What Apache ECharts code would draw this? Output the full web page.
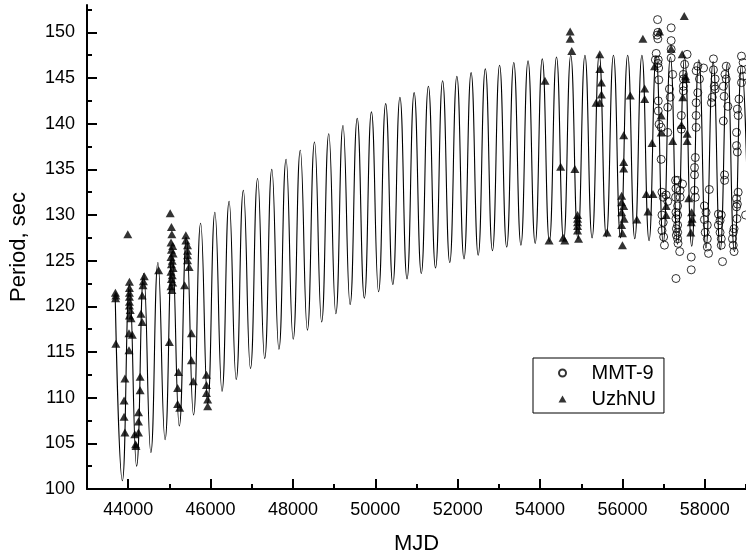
<!DOCTYPE html>
<html>
<head>
<meta charset="utf-8">
<script src="https://cdn.jsdelivr.net/npm/echarts@6/dist/echarts.min.js"></script>
<style>html,body{margin:0;padding:0;background:#fff}#c{width:746px;height:560px}</style>
</head>
<body>
<div id="c"></div>
<script>
// Model curve: successive maxima / minima (MJD, period in s)
var curveMJD = [43686,43859,44031,44204,44377,44550,44722,44895,45068,45241,45414,45586,45759,45932,46105,46278,46450,46623,46796,46969,47142,47314,47487,47660,47833,48006,48178,48351,48524,48697,48870,49042,49215,49388,49561,49734,49906,50079,50252,50425,50598,50770,50943,51116,51289,51462,51634,51807,51980,52153,52326,52498,52671,52844,53017,53190,53362,53535,53708,53881,54054,54226,54399,54572,54745,54918,55090,55263,55436,55609,55782,55954,56127,56300,56473,56646,56818,56991,57164,57337,57510,57682,57855,58028,58201,58374,58546,58719,58892,59065];
var curveP = [120.8,100.9,122.4,102.5,123.6,104.0,124.8,105.4,126.0,106.9,127.5,108.1,129.1,109.4,130.3,110.7,131.5,112.0,132.7,113.2,134.0,114.3,135.0,115.3,136.1,116.4,137.1,117.4,138.0,118.3,138.9,119.2,139.8,120.2,140.6,120.9,141.3,121.6,142.2,122.4,142.9,123.0,143.4,123.6,144.1,124.2,144.7,124.8,145.2,125.2,145.6,125.6,146.0,126.1,146.4,126.5,146.7,126.7,146.9,126.9,147.1,127.1,147.3,127.2,147.5,127.4,147.5,127.5,147.6,127.6,147.5,127.5,147.5,127.4,147.5,127.2,147.4,127.0,147.3,126.8,147.2,126.6,147.0,126.4,146.8,126.2,146.6,126.0,146.4,125.8];

// UzhNU observations [MJD, period]
var uzhnu = [
[43690,121.5],[43700,121.2],[43695,120.9],[43700,115.9],
[43990,127.9],[44030,122.7],[44030,122.0],[44030,121.5],[44030,121.05],[44030,120.5],[44030,120.1],[44050,119.6],[44030,119.0],[44070,118.7],[44020,117.05],[44100,116.9],[44020,115.2],
[43920,112.1],[43900,109.7],[43900,107.9],[43920,106.2],
[44160,106.0],[44250,106.2],[44180,104.9],[44190,104.7],
[44290,112.3],[44290,110.8],[44250,108.4],[44250,107.4],
[44340,118.3],[44310,119.2],[44340,121.2],[44360,122.3],[44370,122.75],[44390,123.3],
[44740,123.95],[45000,116.1],
[45020,130.2],[45050,128.7],[45060,127.9],[45040,127.0],[45080,126.6],[45050,126.2],[45090,125.8],[45040,125.4],[45070,125.0],[45050,124.6],[45090,124.2],[45040,123.8],[45070,123.4],[45050,123.0],[45080,122.6],[45040,122.2],[45060,121.8],
[45220,112.8],[45200,111.05],[45200,109.3],[45250,108.9],
[45400,127.8],[45400,127.2],[45440,126.7],[45440,126.1],[45440,125.6],[45440,125.05],[45480,124.3],[45370,122.3],
[45535,117.05],[45535,114.1],[45580,111.8],
[45900,112.5],[45900,111.4],[45900,110.5],[45930,109.8],[45930,109.05],
[54120,144.7],[54730,150.1],[54730,149.3],[54770,147.95],[54500,135.3],[54845,135.05],
[54220,127.2],[54560,127.5],[54600,127.2],
[54910,130.0],[54910,129.6],[54910,129.2],[54910,128.8],[54910,128.3],[54935,127.4],
[55450,147.6],[55450,146.0],[55490,144.5],[55490,143.2],[55360,142.3],[55450,142.3],[55626,128.1],
[56190,143.1],[56030,138.75],[56030,135.8],[56030,135.1],
[55980,132.1],[55980,131.4],[56030,131.0],[55980,130.3],[56040,129.6],[55980,128.9],[56000,128.0],[56000,126.7],
[56350,129.5],[56496,149.3],[56540,143.85],[56540,142.7],[56720,137.9],[56580,132.3],[56740,132.3],[56620,130.4],
[56900,150.1],[56780,146.3],[56940,140.9],[56940,139.05],[57220,138.1],[57183,148.2],[57062,131.0],[57060,130.0],
[57500,151.8],[57450,147.6],[57530,145.2],[57540,144.9],[57465,142.9],[57432,139.85],[57570,138.9],[57570,138.1],
[57610,131.85],[57680,130.3],[57690,129.6],[57670,129.2],[57660,128.1]
];

// MMT-9 observations [MJD, period]
var mmt9 = [
[56853,151.4],[57183,150.5],[56860,150.0],[56840,149.7],[56860,149.3],[57183,149.1],[57183,148.15],
[56820,147.7],[56800,147.0],[56870,147.0],[56860,146.6],[56880,146.1],[57183,147.2],[57220,145.4],[56883,144.8],
[57140,143.8],[57160,142.9],[57100,141.8],[56870,142.5],[56870,141.4],[56890,139.95],[56940,139.6],[57100,139.05],[56940,136.1],
[57290,133.8],[57300,132.9],[57290,131.95],[56960,132.5],[57060,132.2],[56990,131.95],[57100,131.5],
[57300,130.3],[57300,129.6],[56960,130.0],[56990,129.2],[56960,128.3],[57000,127.6],[57020,126.7],
[57310,128.5],[57310,127.8],[57350,126.9],[57300,123.05],
[57570,147.6],[57510,146.5],[57480,145.4],[57480,144.9],[57480,144.1],[57480,143.6],[57430,140.9],[57430,139.4],
[57340,133.8],[57400,132.7],[57400,131.95],[57460,133.4],[57340,131.0],[57340,130.0],[57340,128.9],[57340,128.1],[57340,127.4],[57390,126.0],
[57670,125.4],[57670,124.0],
[57830,146.3],[57790,145.8],[57870,144.9],[57830,143.4],[57790,142.3],[57790,140.9],[57790,139.6],[57770,136.3],[57750,135.2],[57750,134.4],[57750,132.7],[57770,131.95],
[57970,146.1],[57990,131.0],[58030,130.3],[57990,129.5],[58060,128.9],[58010,128.1],[58060,127.4],[58060,126.5],[58090,125.8],[58110,132.8],
[58210,147.1],[58210,145.9],[58250,144.9],[58230,144.1],[58250,143.8],[58180,142.9],[58160,142.3],
[58330,130.1],[58400,130.0],[58370,129.4],[58330,128.9],[58370,128.1],[58400,127.4],[58400,126.7],[58430,124.9],
[58520,146.3],[58490,145.4],[58520,144.9],[58450,144.1],[58470,143.0],[58560,141.9],[58450,140.3],[58480,134.4],[58480,133.8],
[58710,128.5],[58690,128.1],[58670,127.4],[58690,126.7],[58710,126.0],[58780,129.6],
[58830,142.7],[58790,141.6],[58810,140.9],[58770,139.05],[58770,137.6],[58790,136.9],
[58810,132.5],[58770,131.8],[58790,131.2],[58770,130.9],
[58890,147.4],[58930,146.7],[58890,145.9],[58930,145.2],[58890,144.5],[58990,130.0]
];

// Tick values
var xMajorTicks = [44000,46000,48000,50000,52000,54000,56000,58000];
var xMinorTicks = [43000,45000,47000,49000,51000,53000,55000,57000,59000];
var yMajorTicks = [100,105,110,115,120,125,130,135,140,145,150];
var yMinorTicks = [102.5,107.5,112.5,117.5,122.5,127.5,132.5,137.5,142.5,147.5,152.5];

var FONT = '"Liberation Sans", Arial, sans-serif';
var curve = curveMJD.map(function (m, i) { return [m, curveP[i]]; });
function plain(v) { return String(v); }

var chart = echarts.init(document.getElementById('c'), null, {renderer: 'canvas'});
chart.setOption({
  animation: false,
  backgroundColor: '#fff',
  grid: {left: 85, right: 0, top: 5, bottom: 69, containLabel: false},
  legend: {
    data: ['MMT-9', 'UzhNU'],
    orient: 'vertical',
    left: 533, top: 358,
    itemWidth: 8, itemHeight: 7, itemGap: 6,
    padding: [5, 8, 4, 25],
    borderColor: '#000', borderWidth: 1,
    textStyle: {fontFamily: FONT, fontSize: 20, color: '#000', padding: [0, 0, 0, 20]}
  },
  xAxis: [{
    type: 'value', min: 43000, max: 59000, position: 'bottom',
    name: 'MJD', nameLocation: 'middle', nameGap: 44,
    nameTextStyle: {fontFamily: FONT, fontSize: 22, color: '#000'},
    axisLine: {show: true, lineStyle: {color: '#000', width: 2}},
    axisTick: {show: true, inside: true, length: 10, customValues: xMajorTicks, lineStyle: {color: '#000', width: 2}},
    axisLabel: {customValues: xMajorTicks, formatter: plain, fontFamily: FONT, fontSize: 18, color: '#000', margin: 12},
    splitLine: {show: false}
  }, {
    type: 'value', min: 43000, max: 59000, position: 'bottom',
    axisLine: {show: false},
    axisTick: {show: true, inside: true, length: 5, customValues: xMinorTicks, lineStyle: {color: '#000', width: 2}},
    axisLabel: {show: false},
    splitLine: {show: false}
  }],
  yAxis: [{
    type: 'value', min: 100, max: 153, position: 'left',
    name: 'Period, sec', nameLocation: 'middle', nameGap: 57, nameRotate: 90,
    nameTextStyle: {fontFamily: FONT, fontSize: 22, color: '#000'},
    axisLine: {show: true, lineStyle: {color: '#000', width: 2}},
    axisTick: {show: true, inside: true, length: 10, customValues: yMajorTicks, lineStyle: {color: '#000', width: 2}},
    axisLabel: {customValues: yMajorTicks, formatter: plain, fontFamily: FONT, fontSize: 18, color: '#000', margin: 12},
    splitLine: {show: false}
  }, {
    type: 'value', min: 100, max: 153, position: 'left',
    axisLine: {show: false},
    axisTick: {show: true, inside: true, length: 5, customValues: yMinorTicks, lineStyle: {color: '#000', width: 2}},
    axisLabel: {show: false},
    splitLine: {show: false}
  }],
  series: [{
    name: 'model', type: 'line', data: curve, smooth: 0.5, showSymbol: false, symbol: 'none',
    lineStyle: {color: '#000', width: 1.1}, z: 2, silent: true
  }, {
    name: 'MMT-9', type: 'scatter', data: mmt9, symbol: 'circle', symbolSize: 8,
    itemStyle: {color: 'rgba(0,0,0,0)', borderColor: '#000', borderWidth: 1}, z: 3
  }, {
    name: 'UzhNU', type: 'scatter', data: uzhnu, symbol: 'triangle', symbolSize: [9, 8],
    itemStyle: {color: '#000'}, z: 4
  }]
});
</script>
</body>
</html>
